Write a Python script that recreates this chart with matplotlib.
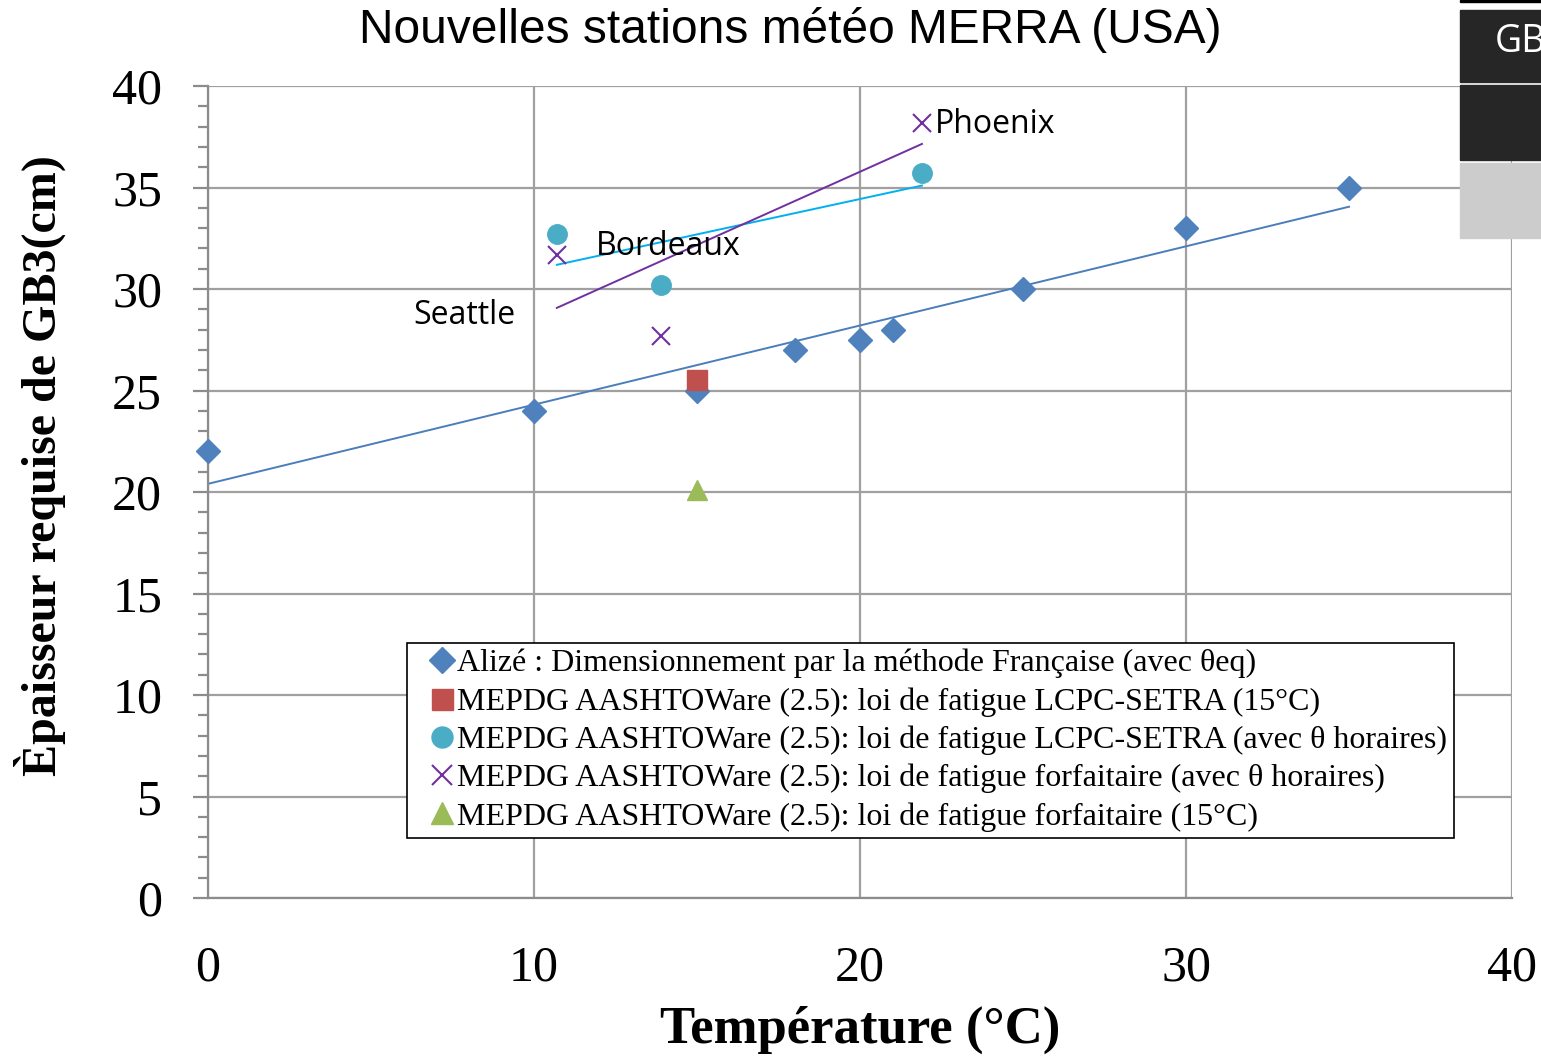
import numpy as np
import matplotlib.pyplot as plt
from matplotlib.patches import Rectangle
from matplotlib.ticker import MultipleLocator

# Alizé (French method, theta eq)
alize_t = [0, 10, 15, 18, 20, 21, 25, 30, 35]
alize_h = [22, 24, 25, 27, 27.5, 28, 30, 33, 35]

# MEPDG, LCPC-SETRA fatigue law at 15°C
lcpc15_t = [15]
lcpc15_h = [25.5]

# MEPDG, LCPC-SETRA fatigue law with hourly temperatures
lcpch_t = [10.7, 13.9, 21.9]
lcpch_h = [32.7, 30.2, 35.7]

# MEPDG, default fatigue law with hourly temperatures
forfh_t = [10.7, 13.9, 21.9]
forfh_h = [31.7, 27.7, 38.2]

# MEPDG, default fatigue law at 15°C
forf15_t = [15]
forf15_h = [20.1]

cities = ['Phoenix', 'Bordeaux', 'Seattle']
city_xy = [(22.3, 38.1), (11.9, 32.1), (6.3, 28.7)]

labels = ['Alizé : Dimensionnement par la méthode Française (avec θeq)',
          'MEPDG AASHTOWare (2.5): loi de fatigue LCPC-SETRA (15°C)',
          'MEPDG AASHTOWare (2.5): loi de fatigue LCPC-SETRA (avec θ horaires)',
          'MEPDG AASHTOWare (2.5): loi de fatigue forfaitaire (avec θ horaires)',
          'MEPDG AASHTOWare (2.5): loi de fatigue forfaitaire (15°C)']

fig = plt.figure(figsize=(15.41, 10.57), dpi=100)
ax = fig.add_axes([0.135, 0.1504, 0.8462, 0.7682])

grid_c = '#8c8c8c'
ax.set_xlim(0, 40)
ax.set_ylim(0, 40)
ax.xaxis.set_major_locator(MultipleLocator(10))
ax.yaxis.set_major_locator(MultipleLocator(5))
ax.yaxis.set_minor_locator(MultipleLocator(1))
ax.grid(True, which='major', color='#a0a0a0', linewidth=1.6, zorder=0)
for s in ax.spines.values():
    s.set_color(grid_c)
    s.set_linewidth(1.6)
ax.spines['top'].set_visible(False)
ax.spines['right'].set_visible(False)
ax.tick_params(axis='y', which='major', length=11, width=1.6, color=grid_c,
               pad=22, labelsize=36)
ax.tick_params(axis='y', which='minor', length=7.5, width=1.6, color=grid_c)
ax.tick_params(axis='x', length=0, pad=34, labelsize=36)
for lab in ax.get_xticklabels() + ax.get_yticklabels():
    lab.set_fontfamily('Liberation Serif')

# trend lines
def trend(xs, ys, color):
    k, b = np.polyfit(xs, ys, 1)
    xx = np.array([min(xs), max(xs)])
    ax.plot(xx, k * xx + b, color=color, linewidth=1.4, zorder=2)

trend(alize_t, alize_h, '#4a7ebb')
trend(lcpch_t, lcpch_h, '#00b0f0')
trend(forfh_t, forfh_h, '#7030a0')

ax.plot(alize_t, alize_h, 'D', color='#4f81bd', ms=12, label=labels[0], zorder=3, clip_on=False)
ax.plot(lcpc15_t, lcpc15_h, 's', color='#c0504d', ms=14, label=labels[1], zorder=4)
ax.plot(lcpch_t, lcpch_h, 'o', color='#4bacc6', ms=14, label=labels[2], zorder=3)
ax.plot(forfh_t, forfh_h, 'x', color='#7030a0', ms=13, mew=1.5, label=labels[3], zorder=3)
ax.plot(forf15_t, forf15_h, '^', color='#9bbb59', ms=15, label=labels[4], zorder=3)

for name, (cx, cy) in zip(cities, city_xy):
    ax.text(cx, cy, name, fontsize=23, family='Open Sans', va='center', ha='left', zorder=5)

leg = ax.legend(loc='lower left', bbox_to_anchor=(0.1526, 0.074),
                prop={'family': 'Liberation Serif', 'size': 23},
                frameon=True, fancybox=False, edgecolor='black',
                handlelength=1.8, handletextpad=-0.42, labelspacing=0.275,
                borderpad=0.2, borderaxespad=0, framealpha=1, markerscale=1.08)
leg.get_frame().set_linewidth(1.2)

fig.text(0.513, 0.9715, 'Nouvelles stations météo MERRA (USA)', fontsize=34.5,
         family='Liberation Sans', ha='center', va='center')
fig.text(0.558, 0.026, 'Température (°C)', fontsize=38, family='Liberation Serif',
         weight='bold', ha='center', va='center')
fig.text(0.026, 0.56, 'Èpaisseur requise de GB3(cm)', fontsize=34.6,
         family='Liberation Serif', weight='bold', rotation=90,
         ha='center', va='center')

# panel strip at the top right
W, H = 1541, 1057
def box(x0, y0, x1, y1, color):
    fig.patches.append(Rectangle((x0 / W, 1 - y1 / H), (x1 - x0) / W, (y1 - y0) / H,
                                 transform=fig.transFigure, color=color, zorder=10))
box(1460, 0, 1541, 2, '#000000')
box(1460, 10, 1541, 82, '#262626')
box(1460, 85, 1541, 160, '#262626')
box(1460, 163, 1541, 238, '#cccccc')
fig.text(1495 / W, 1 - 42 / H, 'GB', color='white', fontsize=27, family='Open Sans',
         ha='left', va='center', zorder=11)

fig.savefig('out.png', dpi=100)
